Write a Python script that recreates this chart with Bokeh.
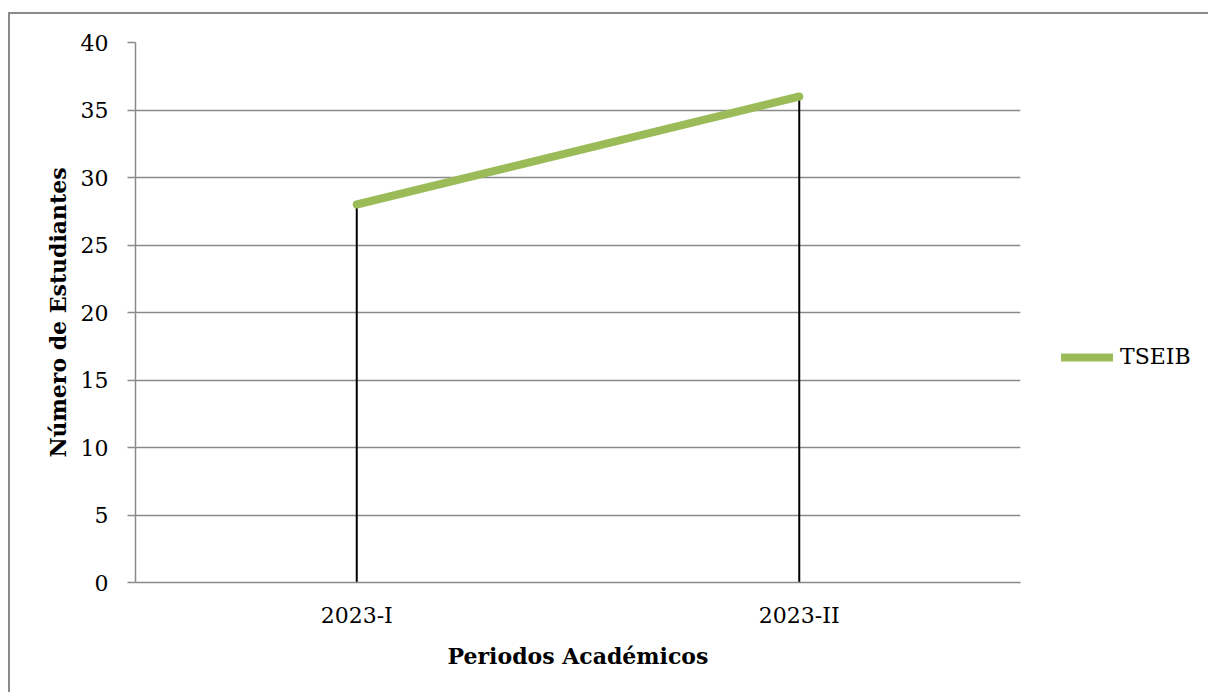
from bokeh.plotting import figure
from bokeh.models import FixedTicker, Legend, LegendItem, FactorRange, Range1d
from bokeh.embed import file_html
from bokeh.resources import INLINE

periods = ["2023-I", "2023-II"]
students = [28, 36]
series_name = "TSEIB"
y_ticks = [0, 5, 10, 15, 20, 25, 30, 35, 40]
x_title = "Periodos Académicos"
y_title = "Número de Estudiantes"

GRAY = "#8a8a8a"
GREEN = "#9bbb59"
FONT = "DejaVu Serif"

p = figure(
    x_range=FactorRange(*periods, range_padding=0),
    y_range=Range1d(0, 40),
    frame_width=885, frame_height=540,
    min_border_left=125, min_border_right=180,
    min_border_top=28, min_border_bottom=110,
    output_backend="svg", toolbar_location=None,
)
p.styles = {"border-top": f"2px solid {GRAY}", "border-left": f"2px solid {GRAY}",
            "margin-top": "12px", "margin-left": "8px"}
p.outline_line_color = None
p.background_fill_color = "white"
p.border_fill_color = "white"

# drop lines
p.segment(x0=periods, y0=[0] * len(periods), x1=periods, y1=students,
          line_color="black", line_width=2)
r = p.line(periods, students, line_color=GREEN, line_width=8, line_cap="round",
           line_join="round")

# axes
p.yaxis.ticker = FixedTicker(ticks=y_ticks)
p.yaxis.axis_line_color = GRAY
p.yaxis.axis_line_width = 1.5
p.yaxis.major_tick_line_color = GRAY
p.yaxis.major_tick_line_width = 1.5
p.yaxis.major_tick_out = 8
p.yaxis.major_tick_in = 0
p.yaxis.minor_tick_line_color = None
p.yaxis.major_label_standoff = 19
p.yaxis.axis_label = y_title
p.yaxis.axis_label_standoff = 7

p.xaxis.axis_line_color = GRAY
p.xaxis.axis_line_width = 1.5
p.xaxis.major_tick_line_color = None
p.xaxis.major_tick_out = 0
p.xaxis.major_tick_in = 0
p.xaxis.major_label_standoff = 20
p.xaxis.axis_label = x_title
p.xaxis.axis_label_standoff = 12

for ax in (p.xaxis, p.yaxis):
    ax.major_label_text_font = FONT
    ax.major_label_text_font_size = "22px"
    ax.major_label_text_color = "black"
    ax.axis_label_text_font = FONT
    ax.axis_label_text_font_size = "22px"
    ax.axis_label_text_font_style = "bold"
    ax.axis_label_text_color = "black"

p.xgrid.grid_line_color = None
p.ygrid.grid_line_color = GRAY
p.ygrid.grid_line_width = 1.5
p.ygrid.ticker = FixedTicker(ticks=y_ticks)

legend = Legend(items=[LegendItem(label=series_name, renderers=[r])],
                location=(41, 213), padding=0, margin=0,
                border_line_color=None, background_fill_alpha=0,
                glyph_width=52, glyph_height=20, label_height=20,
                label_standoff=7, label_text_font=FONT,
                label_text_font_size="22px", label_text_color="black")
p.add_layout(legend, "right")

open("out.html", "w").write(file_html(p, INLINE))
